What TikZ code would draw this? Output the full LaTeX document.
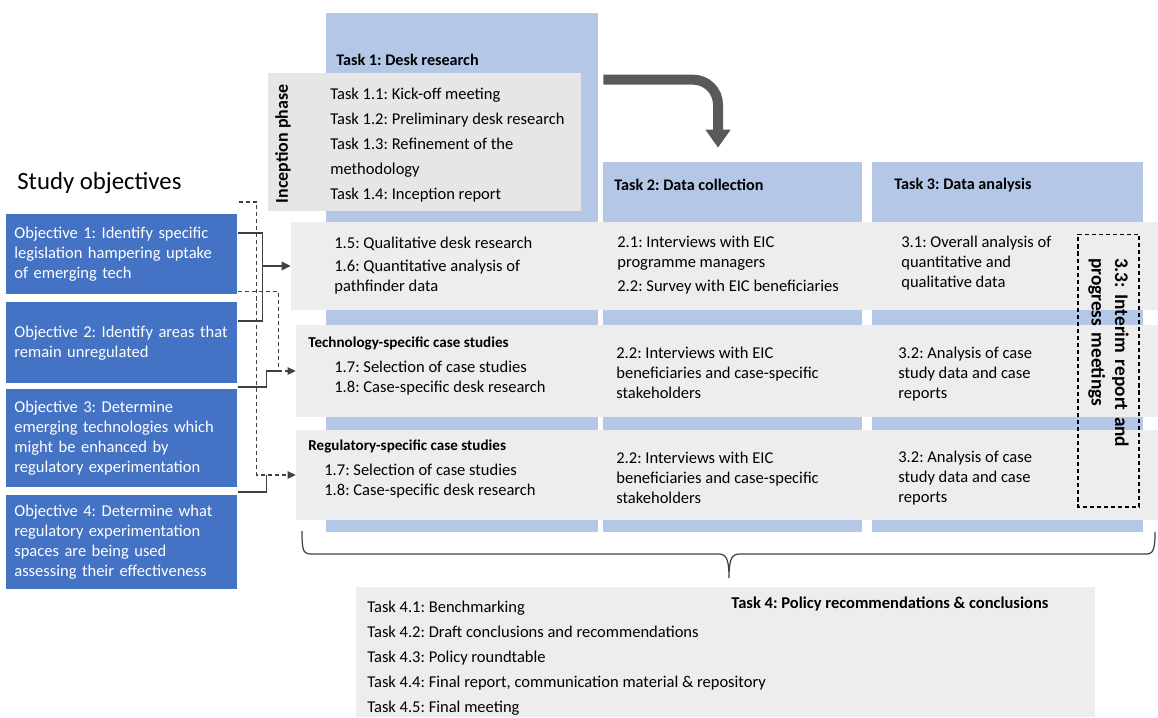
\documentclass[tikz,border=0pt]{standalone}
\usepackage{fontspec}
\setmainfont{Carlito}
\usetikzlibrary{arrows.meta,fit,calc}
\definecolor{colblue}{HTML}{B4C7E7}
\definecolor{rowgray}{HTML}{EDEDED}
\definecolor{incgray}{HTML}{E7E6E6}
\definecolor{objblue}{HTML}{4472C4}
\definecolor{arrowgray}{HTML}{595959}
\definecolor{linegray}{HTML}{404040}

\begin{document}
\frenchspacing
\begin{tikzpicture}[x=0.02cm, y=-0.02cm]
	\tikzstyle{every node}=[inner sep=0pt, font=\fontsize{9.4}{11.4}\selectfont]
	\tikzstyle{colbox}=[fill=colblue, inner sep=0pt]
	\tikzstyle{rowband}=[fill=rowgray, inner sep=0pt]
	\tikzstyle{txt}=[anchor=west, align=left]
	\tikzstyle{head}=[anchor=west, font=\fontsize{9.2}{11}\selectfont\bfseries]
	\tikzstyle{casehead}=[anchor=west, font=\fontsize{8.6}{10.4}\selectfont\bfseries]
	\tikzstyle{objbox}=[fill=objblue, text=white, anchor=north west, align=left, inner xsep=0.16cm, text width=4.3cm, minimum width=4.62cm]
	\tikzstyle{link}=[linegray, line width=0.6pt]
	\tikzstyle{dashlink}=[link, dash pattern=on 2.3pt off 1.7pt]
	\tikzstyle{linkarrow}=[-{Triangle[length=0.16cm, width=0.15cm]}]
	\useasboundingbox (0,0) rectangle (1158,717);

	% task columns
	\node[colbox, fit={(326,13) (598,532)}] (col1) {};
	\node[colbox, fit={(603,162) (862,532)}] (col2) {};
	\node[colbox, fit={(872,162) (1143,532)}] (col3) {};
	\node[head] (t1) at (336,60) {Task 1: Desk research};
	\node[head] (t2) at (614,185) {Task 2: Data collection};
	\node[head] (t3) at (894,185) {Task 3: Data analysis};

	% inception phase
	\node[fill=incgray, inner sep=0pt, fit={(268,73) (581,211)}] (incep) {};
	\node[rotate=90, font=\fontsize{10.2}{12}\selectfont\bfseries] (incphase) at (283,144) {Inception phase};
	\node[txt, font=\fontsize{9.4}{14.2}\selectfont] (inctasks) at (330,145) {Task 1.1: Kick-off meeting\\Task 1.2: Preliminary desk research\\Task 1.3: Refinement of the\\methodology\\Task 1.4: Inception report};

	% rows
	\node[rowband, fit={(291,222) (1158,310)}] (row1) {};
	\node[rowband, fit={(296,325) (1158,417)}] (row2) {};
	\node[rowband, fit={(296,430) (1158,520)}] (row3) {};

	\node[txt] (r1a) at (334,265.5) {1.5: Qualitative desk research\\[1.7pt]1.6: Quantitative analysis of\\pathfinder data};
	\node[txt] (r1b) at (617,265.5) {2.1: Interviews with EIC\\programme managers\\[2.2pt]2.2: Survey with EIC beneficiaries};
	\node[txt] (r1c) at (901,263.5) {3.1: Overall analysis of\\quantitative and\\qualitative data};

	\node[casehead] (r2head) at (308,343) {Technology-specific case studies};
	\node[txt] (r2a) at (334,378.5) {1.7: Selection of case studies\\1.8: Case-specific desk research};
	\node[txt] (r2b) at (616,373) {2.2: Interviews with EIC\\beneficiaries and case-specific\\stakeholders};
	\node[txt] (r2c) at (898,374) {3.2: Analysis of case\\study data and case\\reports};

	\node[casehead] (r3head) at (308,446) {Regulatory-specific case studies};
	\node[txt] (r3a) at (324,481.5) {1.7: Selection of case studies\\1.8: Case-specific desk research};
	\node[txt] (r3b) at (616,478) {2.2: Interviews with EIC\\beneficiaries and case-specific\\stakeholders};
	\node[txt] (r3c) at (898,478) {3.2: Analysis of case\\study data and case\\reports};

	\node[draw, dash pattern=on 2.3pt off 1.7pt, line width=0.6pt, rotate=-90, minimum width=5.46cm, minimum height=1.22cm, text width=4.5cm, inner xsep=0.48cm, align=left, font=\fontsize{11}{13.4}\selectfont\bfseries] (interim) at (1108.5,370.5) {3.3: Interim report and\\progress meetings};

	% flow arrow from task 1 to task 2
	\draw[arrowgray, line width=5.7pt, rounded corners=0.5cm, -{Triangle[length=0.36cm, width=0.48cm]}] ($(col1.north east)+(5,67)$) -| ($(col2.north)+(-14.5,-14)$);

	% brace towards task 4
	\draw[linegray, line width=0.7pt] (302,531) .. controls (302,551) and (303,554) .. (312,554) -- (718,554) .. controls (726,554) and (729,558) .. (729,578) .. controls (729,558) and (732,554) .. (740,554) -- (1146,554) .. controls (1153,554) and (1155,550) .. (1155,532);

	% task 4
	\node[rowband, fit={(356,587) (1095,717)}] (task4) {};
	\node[head, font=\fontsize{9.4}{11.4}\selectfont\bfseries] (t4) at (731,604) {Task 4: Policy recommendations \& conclusions};
	\node[txt, font=\fontsize{9.4}{14.2}\selectfont] (t4tasks) at (367,658) {Task 4.1: Benchmarking\\Task 4.2: Draft conclusions and recommendations\\Task 4.3: Policy roundtable\\Task 4.4: Final report, communication material \& repository\\Task 4.5: Final meeting};

	% study objectives
	\node[anchor=west, font=\fontsize{14.1}{17}\selectfont] (studyobj) at (17,183) {Study objectives};
	\node[objbox, minimum height=1.6cm] (obj1) at (6,214) {Objective 1: Identify specific\\legislation hampering uptake\\of emerging tech};
	\node[objbox, minimum height=1.62cm] (obj2) at (6,302) {Objective 2: Identify areas that\\remain unregulated};
	\node[objbox, minimum height=1.96cm] (obj3) at (6,389) {Objective 3: Determine\\emerging technologies which\\might be enhanced by\\regulatory experimentation};
	\node[objbox, minimum height=1.88cm] (obj4) at (6,495) {Objective 4: Determine what\\regulatory experimentation\\spaces are being used\\assessing their effectiveness};

	% objectives to tasks
	\coordinate (o1a) at ($(obj1.north east)+(0,19)$);
	\coordinate (o2a) at ($(obj2.north east)+(0,19)$);
	\coordinate (hub1) at ($(row1.west)+(-28,0)$);
	\draw[link] (o1a) -| (hub1) |- (o2a);
	\draw[link, line width=1.1pt, -{Triangle[length=0.18cm, width=0.17cm]}] (hub1) -- (row1.west);

	\coordinate (o3a) at ($(obj3.north east)+(0,-2)$);
	\coordinate (o1b) at ($(obj1.south east)+(0,-3)$);
	\coordinate (hub2) at ($(row2.west)+(-29,0)$);
	\coordinate (hub2d) at ($(row2.west)+(-17,0)$);
	\draw[link] (o3a) -| (hub2) -- (hub2d);
	\draw[dashlink, linkarrow] (o1b) -| (hub2d) -- (row2.west);

	\coordinate (o4a) at ($(obj4.north east)+(0,-3)$);
	\coordinate (o1c) at ($(obj1.north east)+(1,-12)$);
	\coordinate (hub3) at ($(row3.west)+(-29,0)$);
	\coordinate (hub3d) at ($(row3.west)+(-39,0)$);
	\draw[link] (o4a) -| (hub3);
	\draw[dashlink, linkarrow] (o1c) -| (hub3d) -- (row3.west);
\end{tikzpicture}
\end{document}
